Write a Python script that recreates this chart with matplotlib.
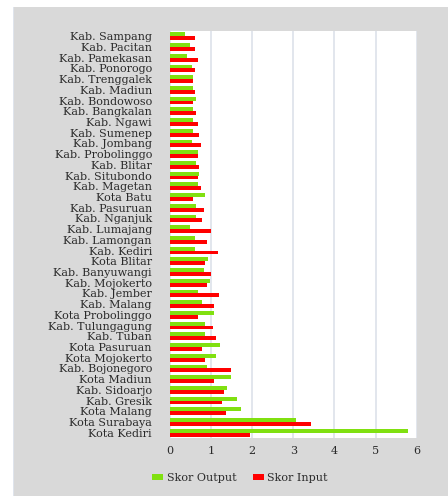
import matplotlib
matplotlib.use("Agg")
import matplotlib.pyplot as plt
import numpy as np

categories = [
    "Kab. Sampang", "Kab. Pacitan", "Kab. Pamekasan", "Kab. Ponorogo",
    "Kab. Trenggalek", "Kab. Madiun", "Kab. Bondowoso", "Kab. Bangkalan",
    "Kab. Ngawi", "Kab. Sumenep", "Kab. Jombang", "Kab. Probolinggo",
    "Kab. Blitar", "Kab. Situbondo", "Kab. Magetan", "Kota Batu",
    "Kab. Pasuruan", "Kab. Nganjuk", "Kab. Lumajang", "Kab. Lamongan",
    "Kab. Kediri", "Kota Blitar", "Kab. Banyuwangi", "Kab. Mojokerto",
    "Kab. Jember", "Kab. Malang", "Kota Probolinggo", "Kab. Tulungagung",
    "Kab. Tuban", "Kota Pasuruan", "Kota Mojokerto", "Kab. Bojonegoro",
    "Kota Madiun", "Kab. Sidoarjo", "Kab. Gresik", "Kota Malang",
    "Kota Surabaya", "Kota Kediri",
]
skor_output = [
    0.37, 0.49, 0.42, 0.54, 0.57, 0.57, 0.64, 0.57, 0.57, 0.57,
    0.54, 0.67, 0.64, 0.71, 0.67, 0.86, 0.64, 0.64, 0.49, 0.60,
    0.60, 0.92, 0.82, 0.97, 0.67, 0.79, 1.08, 0.86, 0.86, 1.22,
    1.12, 0.89, 1.49, 1.38, 1.64, 1.72, 3.07, 5.80,
]
skor_input = [
    0.60, 0.60, 0.67, 0.60, 0.57, 0.60, 0.57, 0.64, 0.67, 0.71,
    0.75, 0.67, 0.71, 0.67, 0.75, 0.57, 0.82, 0.79, 1.00, 0.89,
    1.16, 0.86, 1.00, 0.89, 1.19, 1.08, 0.67, 1.04, 1.12, 0.79,
    0.86, 1.49, 1.08, 1.31, 1.27, 1.35, 3.44, 1.94,
]
x_ticks = [0, 1, 2, 3, 4, 5, 6]

GREEN = "#80e010"
RED = "#ff0000"
BG = "#d9d9d9"

plt.rcParams["font.family"] = ["DejaVu Serif"]

fig = plt.figure(figsize=(4.48, 4.96), dpi=100)
fig.patch.set_facecolor("white")

bg = fig.add_axes([13 / 448, 0, 1 - 13 / 448, (496 - 7) / 496])
bg.set_facecolor(BG)
bg.set_xticks([])
bg.set_yticks([])
for s in bg.spines.values():
    s.set_visible(False)
bg.axvline(0, color="#dfe4ec", linewidth=1.5)
bg.set_zorder(0)

ax = fig.add_axes([170 / 448, (496 - 438) / 496, 246.7 / 448, 407 / 496])
ax.set_zorder(1)
ax.set_facecolor("white")

y = np.arange(len(categories))
h = 0.36
ax.barh(y - h / 2, skor_output, height=h, color=GREEN, label="Skor Output", zorder=3)
ax.barh(y + h / 2, skor_input, height=h, color=RED, label="Skor Input", zorder=3)

ax.set_ylim(len(categories) - 0.5, -0.5)
ax.set_xlim(0, 6)
ax.set_xticks(x_ticks)
ax.set_xticklabels([str(t) for t in x_ticks])
ax.set_yticks(y)
ax.set_yticklabels(categories)
ax.tick_params(axis="both", length=0, labelsize=8, colors="#2a2a2a")
ax.tick_params(axis="y", pad=13)
ax.tick_params(axis="x", pad=6)
ax.xaxis.grid(True, color="#dde2ea", linewidth=1.2, zorder=0)
ax.set_axisbelow(True)
for s in ax.spines.values():
    s.set_visible(False)

handles, labels = ax.get_legend_handles_labels()
leg = fig.legend(handles, labels, loc="center", bbox_to_anchor=(240 / 448, 1 - 478 / 496),
                 ncol=2, frameon=False, fontsize=8, handlelength=1.0,
                 handleheight=0.5, handletextpad=0.3, columnspacing=1.5)
for t in leg.get_texts():
    t.set_color("#2a2a2a")

fig.savefig("out.png", dpi=100, facecolor=fig.get_facecolor())
